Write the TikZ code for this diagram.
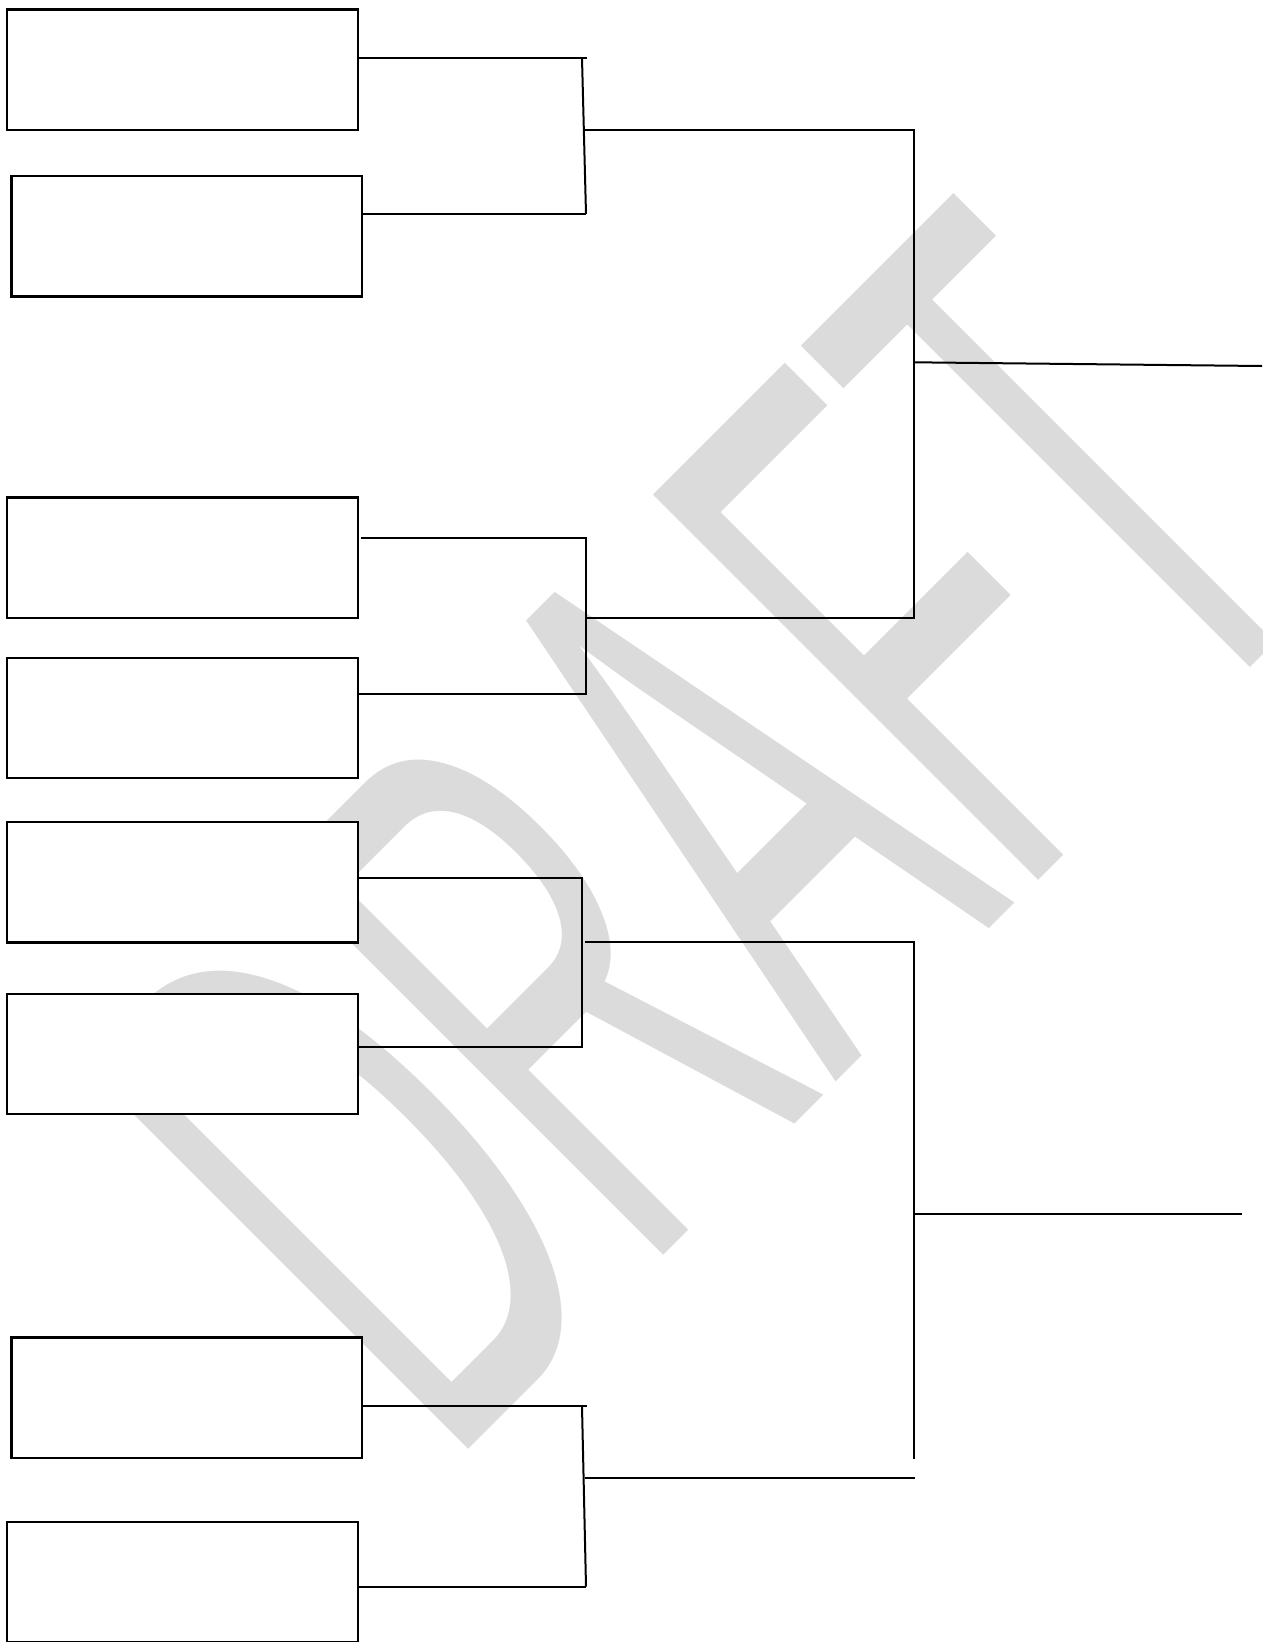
\documentclass[tikz,border=0pt]{standalone}
\usepackage{fontspec}
\usepackage{graphicx}
\newfontfamily\wmfont{Liberation Sans}
\definecolor{wmgray}{RGB}{219,219,219}
\tikzset{
  bbox/.style={draw=black, fill=white, line width=2.3pt, minimum width=350.7pt,
    minimum height=120.4pt, inner sep=0pt, outer sep=0pt, anchor=north west},
  conn/.style={draw=black, line width=2pt},
  thinconn/.style={draw=black, line width=1.4pt},
  wmark/.style={text=wmgray, inner sep=0pt, outer sep=0pt, anchor=base west, rotate=45}
}
\begin{document}
\begin{tikzpicture}[x=1pt,y=-1pt]
\useasboundingbox (0,0) rectangle (1262,1642);
\clip (0,0) rectangle (1262,1642);
% watermark
\node[wmark] (wm) at (446.2,1471.9)
  {\scalebox{0.482}[1]{\wmfont\fontsize{792pt}{792pt}\selectfont DRAFT}};
% boxes
\node[bbox] (b1) at (7.3,9.4) {};
\node[bbox] (b2) at (11.5,176) {};
\node[bbox] (b3) at (7.3,497.5) {};
\node[bbox] (b4) at (7.3,657.7) {};
\node[bbox] (b5) at (7.3,822.1) {};
\node[bbox] (b6) at (7.3,993.9) {};
\node[bbox] (b7) at (11.5,1337.4) {};
\node[bbox] (b8) at (7.3,1521.7) {};
% bracket 1/2
\coordinate (a1) at (522,58);
\coordinate (a2) at (587,58);
\coordinate (a3) at (582,58);
\coordinate (a4) at (586,214);
\coordinate (a5) at (584,130);
\draw[conn] (b1.east |- a1) -- (a1);
\draw[thinconn] (a1) -- (a2);
\draw[conn] (a3) -- (a4);
\draw[conn] (b2.east |- a4) -- (a4);
% bracket 3/4
\coordinate (bt) at (585.5,538.3);
\coordinate (bb) at (585.5,694.3);
\draw[conn] (b3.east |- bt) ++(3,0) -- (bt) -- (bb) -- (b4.east |- bb);
% upper main bracket
\coordinate (c1) at (914,130);
\coordinate (c2) at (914,618);
\coordinate (c3) at (586,618);
\draw[conn] (a5) -- (c1) -- (c2) -- (c3);
\coordinate (c4) at (914,362.3);
\coordinate (out1) at (1262,366);
\draw[conn] (c4) -- (out1);
% bracket 5/6
\coordinate (d1) at (582,878.4);
\coordinate (d2) at (582,1046.5);
\draw[conn] (b5.east |- d1) -- (d1) -- (d2) -- (b6.east |- d2);
% lower main bracket
\coordinate (e1) at (585,942.4);
\coordinate (e2) at (914,942.4);
\coordinate (e3) at (914,1459);
\draw[conn] (e1) -- (e2) -- (e3);
\coordinate (e4) at (914,1213.8);
\coordinate (out2) at (1242,1213.8);
\draw[conn] (e4) -- (out2);
\coordinate (e5) at (585,1478);
\coordinate (e6) at (914.7,1478);
\draw[conn] (e5) -- (e6);
% bracket 7/8
\coordinate (f1) at (587,1406.3);
\coordinate (f2) at (582,1406.3);
\coordinate (f3) at (586,1586.7);
\draw[conn] (b7.east |- f1) -- (f1);
\draw[conn] (f2) -- (f3);
\draw[conn] (b8.east |- f3) -- (f3);
\end{tikzpicture}
\end{document}
